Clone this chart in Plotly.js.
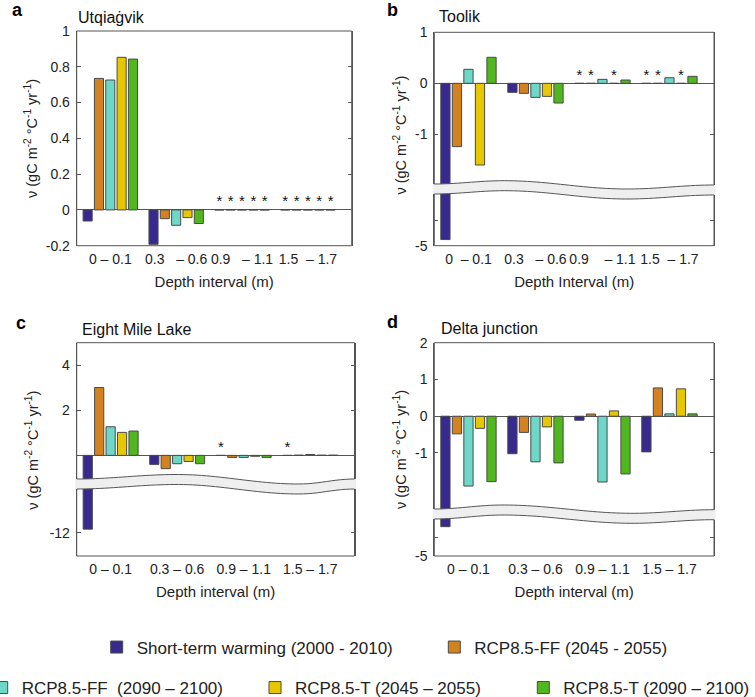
<!DOCTYPE html>
<html>
<head>
<meta charset="utf-8">
<script src="https://cdn.plot.ly/plotly-3.0.1.min.js"></script>
<style>html,body{margin:0;padding:0;background:#fff;}</style>
</head>
<body>
<div id="chart" style="width:755px;height:697px;"></div>
<script>
// ---------------- DATA ----------------
const NB = '\u00a0';
const groupIndex = [0, 1, 2, 3];
const depthTicksA = ['0 – 0.1', '0.3' + NB + NB + NB + '– 0.6', '0.9' + NB + NB + NB + '– 1.1', '1.5' + NB + NB + '– 1.7'];
const depthTicksB = ['0' + NB + NB + '– 0.1', '0.3' + NB + NB + NB + '– 0.6', '0.9' + NB + NB + NB + NB + '– 1.1', '1.5' + NB + NB + '– 1.7'];
const depthTicksCD = ['0 – 0.1', '0.3 – 0.6', '0.9 – 1.1', '1.5 – 1.7'];

const seriesNames = [
  'Short-term warming (2000 - 2010)',
  'RCP8.5-FF (2045 - 2055)',
  'RCP8.5-FF' + NB + NB + '(2090 – 2100)',
  'RCP8.5-T (2045 – 2055)',
  'RCP8.5-T (2090 – 2100)'
];

// a: Utqiagvik
const utqShort   = [-0.062, -0.192, 0, 0];
const utqFF2050  = [0.735, -0.049, 0, 0];
const utqFF2100  = [0.726, -0.086, 0, 0];
const utqT2050   = [0.853, -0.043, 0, 0];
const utqT2100   = [0.843, -0.076, 0, 0];
const utqStars   = [[0,0,1,1],[0,0,1,1],[0,0,1,1],[0,0,1,1],[0,0,1,1]];

// b: Toolik
const tooShort   = [-4.88, -0.176, 0, 0];
const tooFF2050  = [-1.24, -0.196, 0, 0];
const tooFF2100  = [0.275, -0.275, 0.078, 0.11];
const tooT2050   = [-1.60, -0.255, 0, 0];
const tooT2100   = [0.51, -0.386, 0.065, 0.137];
const tooStars   = [[0,0,1,1],[0,0,1,1],[0,0,0,0],[0,0,1,1],[0,0,0,0]];

// c: Eight Mile Lake
const emlShort   = [-11.84, -0.40, 0, 0];
const emlFF2050  = [3.01, -0.59, -0.09, 0.01];
const emlFF2100  = [1.27, -0.37, -0.09, 0.04];
const emlT2050   = [1.02, -0.27, -0.04, 0.01];
const emlT2100   = [1.08, -0.37, -0.09, 0.01];
const emlStars   = [[0,0,1,1],[0,0,0,0],[0,0,0,0],[0,0,0,0],[0,0,0,0]];

// d: Delta junction
const delShort   = [-4.2, -1.02, -0.11, -0.97];
const delFF2050  = [-0.48, -0.44, 0.06, 0.77];
const delFF2100  = [-1.90, -1.24, -1.79, 0.064];
const delT2050   = [-0.33, -0.29, 0.145, 0.745];
const delT2100   = [-1.78, -1.27, -1.57, 0.064];
const delStars   = [[0,0,0,0],[0,0,0,0],[0,0,0,0],[0,0,0,0],[0,0,0,0]];

// y tick labels
const yTicksA = [-0.2, 0, 0.2, 0.4, 0.6, 0.8, 1];
const yTextA  = ['-0.2', '0', '0.2', '0.4', '0.6', '0.8', '1'];
const yTicksBUp = [-1, 0, 1];        const yTextBUp = ['-1', '0', '1'];
const yTicksBLo = [-5];              const yTextBLo = ['-5'];
const yMinorBLo = [-4.5];
const yTicksCUp = [2, 4];            const yTextCUp = ['2', '4'];
const yTicksCLo = [-12];             const yTextCLo = ['-12'];
const yTicksDUp = [-1, 0, 1, 2];     const yTextDUp = ['-1', '0', '1', '2'];
const yTicksDLo = [-5];              const yTextDLo = ['-5'];
const yMinorDLo = [-4.5];

// ---------------- STYLE / LAYOUT ----------------
const W = 755, H = 697;
const fx = p => p / W;
const fy = p => 1 - p / H;
const colors = ['#38298f', '#d4821f', '#6dd8c8', '#e6c700', '#50b81e'];
const legendIds = ['legend', 'legend2', 'legend3', 'legend4', 'legend5'];
const PITCH = 0.172, BW = 0.138;
const off = k => -2.5 * PITCH + k * PITCH + (PITCH - BW) / 2;
const XR = [-0.51, 3.665];
const FONT = 'Liberation Sans, Arial, sans-serif';

const P = {
  a: {x0: 76.7, x1: 351.7, y0: 31, y1: 245.7},
  b: {x0: 434.3, x1: 714, y0: 32.3, y1: 245.7, split: 189, wave: [[0,0],[0.25,-3.3],[0.69,5],[1,1]]},
  c: {x0: 76.7, x1: 354.5, y0: 342.7, y1: 556, split: 484, wave: [[0,0],[0.36,-4.5],[0.80,5],[1,0]]},
  d: {x0: 434.3, x1: 714, y0: 342.7, y1: 556, split: 514, wave: [[0,0],[0.245,-4],[0.71,4.3],[1,0.7]]}
};

const traces = [];
function addPanel(series, stars, xa, yas, legendOn) {
  series.forEach((vals, k) => {
    yas.forEach((ya, j) => {
      traces.push({
        type: 'bar', x: groupIndex, y: vals, xaxis: xa, yaxis: ya,
        offset: off(k), width: BW, name: seriesNames[k],
        marker: {color: colors[k], line: {color: '#4a4a4a', width: 1}},
        showlegend: legendOn && j === 0, legend: legendIds[k],
        cliponaxis: true, hoverinfo: 'y'
      });
    });
    const sx = [], sy = [];
    groupIndex.forEach((g, i) => { if (stars[k][i]) { sx.push(g + off(k) + BW / 2); sy.push(0); } });
    if (sx.length) {
      traces.push({
        type: 'scatter', mode: 'text', x: sx, y: sy, text: sx.map(() => '*'),
        textposition: 'top center', textfont: {family: FONT, size: 15, color: '#111'},
        xaxis: xa, yaxis: yas[0], showlegend: false, cliponaxis: false, hoverinfo: 'skip'
      });
    }
  });
}
addPanel([utqShort, utqFF2050, utqFF2100, utqT2050, utqT2100], utqStars, 'x', ['y'], true);
addPanel([tooShort, tooFF2050, tooFF2100, tooT2050, tooT2100], tooStars, 'x2', ['y2', 'y3'], false);
addPanel([emlShort, emlFF2050, emlFF2100, emlT2050, emlT2100], emlStars, 'x3', ['y4', 'y5'], false);
addPanel([delShort, delFF2050, delFF2100, delT2050, delT2100], delStars, 'x4', ['y6', 'y7'], false);

function xAxis(p, anchor, ticktext, title) {
  return {
    domain: [fx(p.x0), fx(p.x1)], anchor: anchor, range: XR,
    tickvals: groupIndex, ticktext: ticktext, ticks: '', showline: false, tickangle: 0,
    ticklabelstandoff: 3,
    showgrid: false, zeroline: false, automargin: false, fixedrange: true,
    tickfont: {family: FONT, size: 14, color: '#222'},
    title: {text: title, standoff: 10, font: {family: FONT, size: 15, color: '#222'}}
  };
}
function yAxis(top, bottom, anchor, range, tv, tt, zl, minorVals) {
  const ax = {
    domain: [fy(bottom), fy(top)], anchor: anchor, range: range,
    tickvals: tv, ticktext: tt, ticks: 'inside', ticklen: 4, tickcolor: '#555',
    ticklabelstandoff: 3,
    showline: true, linecolor: '#555', linewidth: 1, mirror: 'ticks',
    showgrid: false, zeroline: zl, zerolinecolor: '#555', zerolinewidth: 1,
    automargin: false, fixedrange: true,
    tickfont: {family: FONT, size: 14, color: '#222'}
  };
  if (minorVals) ax.minor = {tickvals: minorVals, ticks: 'inside', ticklen: 4, tickcolor: '#555', showgrid: false};
  return ax;
}

const shapes = [];
['a', 'b', 'c', 'd'].forEach(key => {
  const p = P[key];
  shapes.push({type: 'rect', xref: 'paper', yref: 'paper', x0: fx(p.x0), x1: fx(p.x1),
    y0: fy(p.y1), y1: fy(p.y0), line: {color: '#555', width: 1}, fillcolor: 'rgba(0,0,0,0)', layer: 'above'});
});
function waveDy(wave, u) {
  for (let i = 0; i < wave.length - 1; i++) {
    const [u0, d0] = wave[i], [u1, d1] = wave[i + 1];
    if (u >= u0 && u <= u1) {
      const t = (u - u0) / (u1 - u0);
      const s = (1 - Math.cos(Math.PI * t)) / 2;
      return d0 + (d1 - d0) * s;
    }
  }
  return wave[wave.length - 1][1];
}
['b', 'c', 'd'].forEach(key => {
  const p = P[key];
  const N = 60, topPts = [], botPts = [];
  for (let i = 0; i <= N; i++) {
    const u = i / N;
    const px = p.x0 + u * (p.x1 - p.x0);
    const py = p.split - 5 + waveDy(p.wave, u);
    topPts.push([px, py]);
    botPts.push([px, py + 10]);
  }
  const toStr = pts => pts.map((q, i) => (i ? 'L' : 'M') + fx(q[0]).toFixed(5) + ',' + fy(q[1]).toFixed(5)).join(' ');
  const ext = (q, i) => [i === 0 ? q[0] - 1.5 : (i === N ? q[0] + 1.5 : q[0]), q[1]];
  const fillPath = toStr(topPts.map(ext).concat(botPts.map(ext).reverse())) + ' Z';
  shapes.push({type: 'path', xref: 'paper', yref: 'paper', path: fillPath, fillcolor: '#efefef', line: {width: 0}, layer: 'above'});
  shapes.push({type: 'path', xref: 'paper', yref: 'paper', path: toStr(topPts), line: {color: '#555', width: 1}, layer: 'above'});
  shapes.push({type: 'path', xref: 'paper', yref: 'paper', path: toStr(botPts), line: {color: '#555', width: 1}, layer: 'above'});
});

const yTitle = '\u03bd (gC m<sup>-2</sup> °C<sup>-1</sup> yr<sup>-1</sup>)';
function ann(text, px, py, opts) {
  return Object.assign({text: text, xref: 'paper', yref: 'paper', x: fx(px), y: fy(py),
    xanchor: 'left', yanchor: 'middle', showarrow: false,
    font: {family: FONT, size: 16, color: '#111'}}, opts || {});
}
const letterFont = {family: FONT, size: 18, color: '#000'};
const yTitleFont = {family: FONT, size: 14.5, color: '#222'};
const annotations = [
  ann('<b>a</b>', 17, 10, {xanchor: 'center', font: letterFont}),
  ann('<b>b</b>', 392, 10, {xanchor: 'center', font: letterFont}),
  ann('<b>c</b>', 21, 323, {xanchor: 'center', font: letterFont}),
  ann('<b>d</b>', 392.5, 322, {xanchor: 'center', font: letterFont}),
  ann('Utqiaġvik', 76, 17),
  ann('Toolik', 437, 16.7),
  ann('Eight Mile Lake', 80, 329.3),
  ann('Delta junction', 439, 328.3),
  ann(yTitle, 31.7, 138.3, {xanchor: 'center', textangle: -90, font: yTitleFont}),
  ann(yTitle, 400, 135.6, {xanchor: 'center', textangle: -90, font: yTitleFont}),
  ann(yTitle, 31.7, 450, {xanchor: 'center', textangle: -90, font: yTitleFont}),
  ann(yTitle, 400, 450, {xanchor: 'center', textangle: -90, font: yTitleFont})
];

// legend text start x, centre y (px)
const legendPos = [[136.7, 647.5], [474.3, 647.5], [21.7, 688], [295, 688], [563.3, 688]];
const layout = {
  width: W, height: H, margin: {l: 0, r: 0, t: 0, b: 0, pad: 0, autoexpand: false},
  paper_bgcolor: '#fff', plot_bgcolor: 'rgba(0,0,0,0)',
  font: {family: FONT, size: 14, color: '#222'},
  barmode: 'overlay', showlegend: true,
  xaxis:  xAxis(P.a, 'y',  depthTicksA, 'Depth interval (m)'),
  xaxis2: xAxis(P.b, 'y3', depthTicksB, 'Depth Interval (m)'),
  xaxis3: xAxis(P.c, 'y5', depthTicksCD, 'Depth interval (m)'),
  xaxis4: xAxis(P.d, 'y7', depthTicksCD, 'Depth interval (m)'),
  yaxis:  yAxis(P.a.y0, P.a.y1, 'x', [-0.2, 1.0], yTicksA, yTextA, true),
  yaxis2: yAxis(P.b.y0, P.b.split, 'x2', [-2.07, 1], yTicksBUp, yTextBUp, true),
  yaxis3: yAxis(P.b.split, P.b.y1, 'x2', [-5, -3.89], yTicksBLo, yTextBLo, false, yMinorBLo),
  yaxis4: yAxis(P.c.y0, P.c.split, 'x3', [-1.27, 5], yTicksCUp, yTextCUp, true),
  yaxis5: yAxis(P.c.split, P.c.y1, 'x3', [-13.03, -9.84], yTicksCLo, yTextCLo, false),
  yaxis6: yAxis(P.d.y0, P.d.split, 'x4', [-2.66, 2], yTicksDUp, yTextDUp, true),
  yaxis7: yAxis(P.d.split, P.d.y1, 'x4', [-5, -3.855], yTicksDLo, yTextDLo, false, yMinorDLo),
  shapes: shapes,
  annotations: annotations
};
legendIds.forEach((id, k) => {
  layout[id] = {
    x: fx(legendPos[k][0] - 40), y: fy(legendPos[k][1]), xanchor: 'left', yanchor: 'middle',
    orientation: 'h', bgcolor: 'rgba(0,0,0,0)', borderwidth: 0,
    font: {family: FONT, size: 17, color: '#222'}
  };
});

Plotly.newPlot('chart', traces, layout, {staticPlot: true, displayModeBar: false});
</script>
</body>
</html>
